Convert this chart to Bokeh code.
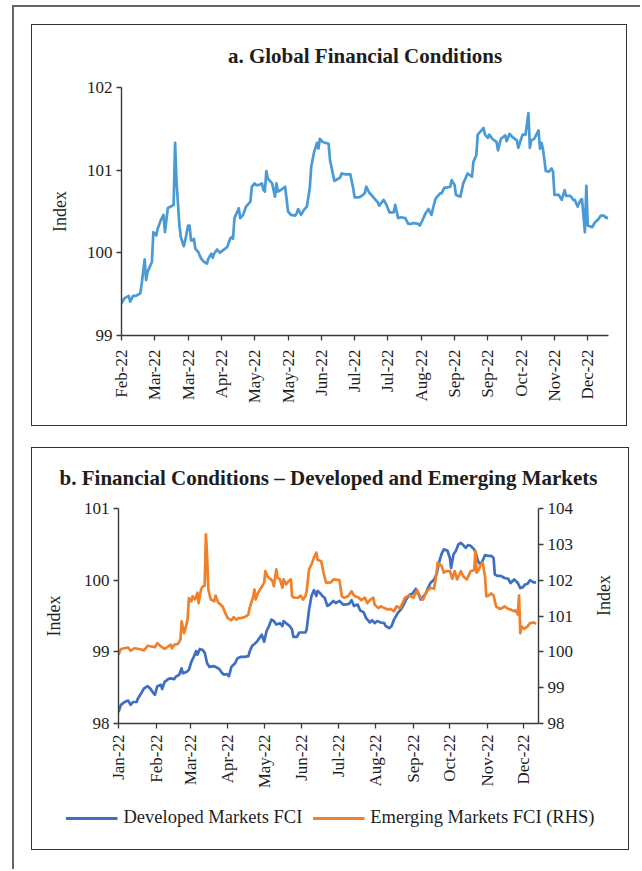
import math
from datetime import datetime, timedelta

from bokeh.plotting import figure
from bokeh.layouts import column
from bokeh.models import (Range1d, LinearAxis, FixedTicker, DatetimeTickFormatter,
                          MonthsTicker, Legend, LegendItem, Title)
from bokeh.embed import file_html
from bokeh.resources import INLINE

# ---------------- data: panel a (Global FCI) ----------------
a_days = [0, 2, 5, 6, 8, 10, 13, 14, 16, 17,
          18, 21, 22, 24, 25, 27, 29, 30, 32, 34,
          36, 37, 38, 40, 41, 43, 44, 46, 47, 48,
          49, 50, 51, 53, 55, 57, 59, 60, 62, 63,
          64, 66, 68, 70, 73, 75, 76, 77, 78, 80,
          81, 82, 84, 86, 89, 90, 92, 93, 95, 97,
          98, 99, 100, 101, 102, 104, 106, 107, 108, 110,
          113, 115, 117, 120, 121, 122, 124, 126, 128, 130,
          131, 133, 135, 136, 137, 139, 143, 144, 147, 149,
          151, 152, 155, 158, 160, 161, 164, 166, 168, 169,
          171, 174, 177, 178, 181, 183, 185, 188, 189, 191,
          193, 196, 198, 200, 202, 205, 206, 208, 210, 212,
          214, 216, 217, 220, 221, 223, 225, 227, 228, 230,
          231, 234, 236, 239, 242, 243, 245, 246, 248, 250,
          251, 253, 254, 256, 259, 260, 262, 265, 266, 268,
          270, 273, 274, 276, 277, 279, 281, 282, 283, 285,
          288, 289, 290, 291, 293, 295, 297, 298, 299, 302,
          304, 306, 307, 310, 312, 313, 315, 317, 318, 320,
          321, 322, 325, 327, 329, 331, 333, 335, 336]
a_global_fci = [99.39, 99.45, 99.48, 99.41, 99.48, 99.48, 99.51, 99.63, 99.92, 99.67,
                99.77, 99.89, 100.25, 100.21, 100.29, 100.39, 100.46, 100.25, 100.54, 100.56,
                100.58, 101.33, 100.86, 100.33, 100.19, 100.08, 100.15, 100.33, 100.33, 100.15,
                100.15, 100.17, 100.05, 100.01, 99.93, 99.89, 99.87, 99.93, 99.99, 99.94,
                99.99, 100.04, 100.00, 100.03, 100.07, 100.17, 100.19, 100.17, 100.42, 100.50,
                100.54, 100.42, 100.46, 100.56, 100.62, 100.80, 100.84, 100.82, 100.82, 100.84,
                100.76, 100.74, 100.99, 100.90, 100.88, 100.84, 100.68, 100.84, 100.74, 100.76,
                100.80, 100.50, 100.46, 100.45, 100.48, 100.53, 100.46, 100.52, 100.56, 100.78,
                101.04, 101.22, 101.33, 101.26, 101.38, 101.34, 101.32, 101.12, 100.87, 100.89,
                100.91, 100.96, 100.95, 100.95, 100.78, 100.67, 100.67, 100.69, 100.72, 100.80,
                100.73, 100.67, 100.61, 100.57, 100.64, 100.58, 100.49, 100.49, 100.58, 100.42,
                100.43, 100.42, 100.35, 100.35, 100.36, 100.35, 100.33, 100.40, 100.48, 100.53,
                100.46, 100.60, 100.66, 100.72, 100.72, 100.79, 100.79, 100.80, 100.88, 100.82,
                100.70, 100.68, 100.84, 100.96, 100.92, 101.10, 101.18, 101.43, 101.47, 101.51,
                101.43, 101.39, 101.43, 101.38, 101.34, 101.24, 101.38, 101.42, 101.35, 101.44,
                101.40, 101.36, 101.27, 101.38, 101.43, 101.43, 101.69, 101.27, 101.36, 101.38,
                101.48, 101.26, 101.33, 101.26, 100.99, 100.98, 101.02, 100.98, 100.70, 100.70,
                100.64, 100.76, 100.69, 100.69, 100.64, 100.64, 100.56, 100.64, 100.65, 100.25,
                100.81, 100.33, 100.31, 100.37, 100.40, 100.45, 100.45, 100.42, 100.43]
a_tick_labels = ["Feb-22", "Mar-22", "Mar-22", "Apr-22", "May-22", "May-22", "Jun-22",
                 "Jul-22", "Jul-22", "Aug-22", "Sep-22", "Sep-22", "Oct-22", "Nov-22", "Dec-22"]
a_tick_step_days = 23

# ---------------- data: panel b (DM and EM FCI) ----------------
b_start = datetime(2022, 1, 1)
dm_days = [0, 2, 5, 8, 10, 12, 15, 16, 19, 21,
           24, 26, 29, 30, 32, 35, 36, 38, 41, 43,
           46, 47, 50, 52, 53, 56, 58, 60, 62, 64,
           65, 67, 69, 71, 73, 75, 78, 80, 83, 85,
           87, 89, 91, 93, 96, 98, 101, 104, 107, 108,
           110, 112, 114, 116, 118, 120, 122, 124, 126, 128,
           130, 133, 135, 136, 138, 141, 143, 144, 147, 149,
           151, 154, 155, 157, 159, 161, 163, 164, 166, 168,
           170, 172, 174, 177, 179, 182, 185, 187, 190, 192,
           194, 197, 199, 202, 204, 207, 209, 211, 213, 216,
           219, 220, 223, 225, 227, 230, 233, 235, 237, 240,
           242, 245, 247, 249, 253, 255, 257, 260, 262, 264,
           266, 268, 271, 273, 274, 276, 278, 280, 282, 284,
           286, 288, 290, 293, 295, 296, 298, 300, 302, 304,
           307, 309, 310, 312, 315, 318, 321, 323, 326, 329,
           331, 333, 335, 337, 339, 342, 344]
dm_fci = [98.16, 98.26, 98.30, 98.32, 98.26, 98.30, 98.30, 98.35, 98.43, 98.49,
          98.52, 98.49, 98.42, 98.40, 98.52, 98.54, 98.48, 98.58, 98.62, 98.63,
          98.62, 98.65, 98.68, 98.77, 98.70, 98.72, 98.75, 98.86, 98.93, 99.01,
          98.96, 99.04, 99.03, 98.99, 98.84, 98.79, 98.80, 98.79, 98.76, 98.71,
          98.68, 98.69, 98.66, 98.79, 98.84, 98.91, 98.93, 98.93, 98.94, 99.00,
          99.08, 99.11, 99.14, 99.19, 99.24, 99.14, 99.29, 99.36, 99.45, 99.43,
          99.38, 99.40, 99.36, 99.43, 99.40, 99.36, 99.31, 99.21, 99.21, 99.27,
          99.27, 99.27, 99.31, 99.59, 99.78, 99.86, 99.78, 99.85, 99.82, 99.78,
          99.75, 99.64, 99.66, 99.71, 99.68, 99.71, 99.66, 99.66, 99.67, 99.72,
          99.64, 99.66, 99.58, 99.55, 99.47, 99.41, 99.44, 99.40, 99.43, 99.41,
          99.40, 99.36, 99.33, 99.36, 99.45, 99.54, 99.60, 99.66, 99.73, 99.80,
          99.81, 99.88, 99.81, 99.73, 99.81, 99.89, 99.96, 100.01, 100.08, 100.24,
          100.36, 100.43, 100.41, 100.31, 100.17, 100.36, 100.41, 100.50, 100.52, 100.49,
          100.45, 100.49, 100.48, 100.43, 100.34, 100.27, 100.22, 100.27, 100.35, 100.34,
          100.34, 100.31, 100.08, 100.06, 100.06, 100.03, 100.02, 99.96, 100.01, 99.96,
          99.89, 99.90, 99.94, 99.95, 100.00, 99.97, 99.97]
em_days = [0, 2, 5, 8, 10, 13, 17, 21, 24, 27,
           30, 32, 35, 38, 41, 43, 44, 46, 49, 51,
           52, 54, 56, 57, 58, 60, 61, 63, 65, 66,
           68, 69, 71, 72, 73, 74, 76, 79, 80, 82,
           84, 86, 88, 90, 93, 95, 97, 99, 101, 104,
           107, 108, 111, 112, 113, 115, 117, 120, 121, 123,
           125, 127, 128, 130, 131, 133, 135, 136, 138, 140,
           142, 143, 145, 148, 150, 152, 154, 155, 157, 159,
           161, 163, 164, 167, 169, 171, 172, 175, 177, 182,
           184, 186, 189, 192, 194, 198, 200, 203, 205, 207,
           210, 211, 214, 216, 219, 222, 224, 227, 229, 232,
           234, 236, 238, 240, 243, 246, 249, 251, 254, 257,
           260, 262, 263, 266, 268, 270, 273, 275, 277, 279,
           282, 284, 287, 290, 293, 294, 295, 297, 298, 300,
           302, 303, 305, 307, 309, 311, 314, 316, 318, 321,
           323, 326, 327, 329, 330, 331, 332, 334, 337, 339,
           342, 344]
em_fci_rhs = [99.92, 100.08, 100.10, 100.12, 100.03, 100.10, 100.08, 100.04, 100.17, 100.15,
              100.13, 100.24, 100.15, 100.08, 100.15, 100.20, 100.10, 100.20, 100.22, 100.34,
              100.85, 100.52, 100.76, 100.94, 101.50, 101.41, 101.55, 101.46, 101.65, 101.36,
              101.74, 101.81, 101.85, 103.28, 102.67, 101.74, 101.46, 101.41, 101.57, 101.38,
              101.32, 101.25, 101.08, 100.94, 100.88, 100.97, 100.90, 100.94, 100.94, 100.97,
              101.04, 101.22, 101.55, 101.74, 101.46, 101.65, 101.76, 101.93, 102.25, 102.09,
              102.04, 101.97, 101.83, 102.30, 102.07, 102.02, 101.79, 102.02, 101.88, 101.97,
              102.02, 101.55, 101.51, 101.51, 101.57, 101.46, 101.55, 101.69, 102.30, 102.44,
              102.63, 102.77, 102.57, 102.53, 102.20, 101.93, 101.93, 101.94, 102.02, 102.00,
              101.55, 101.51, 101.55, 101.69, 101.57, 101.51, 101.44, 101.51, 101.36, 101.44,
              101.51, 101.32, 101.22, 101.27, 101.22, 101.18, 101.20, 101.13, 101.27, 101.22,
              101.36, 101.51, 101.55, 101.57, 101.51, 101.72, 101.51, 101.46, 101.69, 101.79,
              101.76, 102.21, 102.49, 102.41, 102.21, 102.25, 102.25, 102.04, 102.25, 102.02,
              102.25, 102.11, 102.02, 102.25, 102.28, 102.81, 102.21, 102.30, 102.41, 102.49,
              102.09, 101.55, 101.57, 101.63, 101.57, 101.27, 101.20, 101.22, 101.27, 101.20,
              101.18, 101.13, 101.16, 101.04, 101.57, 100.52, 100.71, 100.64, 100.71, 100.80,
              100.82, 100.78]
b_span_days = 346
legend_labels = ["Developed Markets FCI", "Emerging Markets FCI (RHS)"]
title_a = "a. Global Financial Conditions"
title_b = "b. Financial Conditions \u2013 Developed and Emerging Markets"

FONT = "Liberation Serif"
TXT = "#1e1e1e"
AXC = "#3a3a3a"
C_GLOBAL = "#4A9AD6"
C_DM = "#3F6FC1"
C_EM = "#F0802A"
BOX = "1.5px solid #333333"


def style_axis(ax, label_standoff, tick_standoff=4):
    ax.axis_line_color = AXC
    ax.axis_line_width = 1.4
    ax.major_tick_line_color = AXC
    ax.major_tick_line_width = 1.3
    ax.major_tick_out = 5
    ax.major_tick_in = 0
    ax.minor_tick_line_color = None
    ax.major_label_text_font = FONT
    ax.major_label_text_font_size = "17px"
    ax.major_label_text_color = TXT
    ax.major_label_standoff = tick_standoff
    ax.axis_label_text_font = FONT
    ax.axis_label_text_font_size = "18px"
    ax.axis_label_text_font_style = "normal"
    ax.axis_label_text_color = TXT
    ax.axis_label_standoff = label_standoff


def add_title(p, text, standoff, gap):
    # small spacer title next to the frame, then the real title above it
    p.add_layout(Title(text=" ", text_font_size="1px", standoff=gap), "above")
    p.add_layout(Title(text=text, text_font=FONT, text_font_size="21px",
                       text_font_style="bold", text_color=TXT, align="center",
                       standoff=standoff), "above")


# ---------------- panel a ----------------
a_ticks = [i * a_tick_step_days for i in range(len(a_tick_labels))]
p1 = figure(width=596, height=402, output_backend="svg", toolbar_location=None,
            x_range=Range1d(0, 336.3), y_range=Range1d(99, 102),
            min_border_left=89, min_border_right=20, min_border_top=62, min_border_bottom=92)
p1.line(a_days, a_global_fci, line_color=C_GLOBAL, line_width=2.7, line_join="round")
p1.grid.visible = False
p1.outline_line_color = None
p1.xaxis.ticker = FixedTicker(ticks=a_ticks)
p1.xaxis.major_label_overrides = {t: l for t, l in zip(a_ticks, a_tick_labels)}
p1.xaxis.major_label_orientation = math.pi / 2
p1.yaxis.ticker = FixedTicker(ticks=[99, 100, 101, 102])
p1.yaxis.axis_label = "Index"
style_axis(p1.xaxis[0], 5, 9)
style_axis(p1.yaxis[0], 14)
add_title(p1, title_a, 22, 6)
p1.styles = {"border": BOX}
p1.margin = (17, 0, 0, 17)

# ---------------- panel b ----------------
dm_x = [b_start + timedelta(days=d) for d in dm_days]
em_x = [b_start + timedelta(days=d) for d in em_days]
p2 = figure(width=596, height=345, output_backend="svg", toolbar_location=None,
            x_axis_type="datetime",
            x_range=Range1d(b_start, b_start + timedelta(days=b_span_days)),
            y_range=Range1d(98, 101),
            min_border_left=86, min_border_right=90, min_border_top=60, min_border_bottom=70)
p2.extra_y_ranges = {"rhs": Range1d(98, 104)}
p2.line(dm_x, dm_fci, line_color=C_DM, line_width=2.7, line_join="round")
p2.line(em_x, em_fci_rhs, line_color=C_EM, line_width=2.7, line_join="round",
        y_range_name="rhs")
p2.grid.visible = False
p2.outline_line_color = None
p2.xaxis.ticker = MonthsTicker(months=list(range(12)))
p2.xaxis.formatter = DatetimeTickFormatter(days="%b-%y", months="%b-%y", years="%b-%y")
p2.xaxis.major_label_orientation = math.pi / 2
p2.yaxis.ticker = FixedTicker(ticks=[98, 99, 100, 101])
p2.yaxis.axis_label = "Index"
rax = LinearAxis(y_range_name="rhs", axis_label="Index",
                 ticker=FixedTicker(ticks=[98, 99, 100, 101, 102, 103, 104]))
p2.add_layout(rax, "right")
style_axis(p2.xaxis[0], 5, 6)
style_axis(p2.yaxis[0], 17)
style_axis(rax, 28)
rax.axis_label_orientation = math.pi / 2
add_title(p2, title_b, 26, 3)
p2.frame_align = False

# legend strip below panel b (same box)
p3 = figure(width=596, height=56, output_backend="svg", toolbar_location=None,
            x_axis_type=None, y_axis_type=None,
            x_range=Range1d(0, 1), y_range=Range1d(0, 1), min_border=0)
p3.frame_align = False
p3.grid.visible = False
p3.outline_line_color = None
nan = float("nan")
g_dm = p3.line([nan], [nan], line_color=C_DM, line_width=3)
g_em = p3.line([nan], [nan], line_color=C_EM, line_width=3)
legend = Legend(items=[LegendItem(label=legend_labels[0], renderers=[g_dm]),
                       LegendItem(label=legend_labels[1], renderers=[g_em])],
                orientation="horizontal", location="top_center",
                glyph_width=52, glyph_height=18, label_standoff=6, spacing=10,
                padding=0, margin=14, border_line_color=None, background_fill_alpha=0,
                label_text_font=FONT, label_text_font_size="18.5px", label_text_color=TXT)
p3.add_layout(legend)

panel_b = column(p2, p3, styles={"border": BOX})
panel_b.margin = (21, 0, 0, 17)

layout = column(p1, panel_b, styles={"border-left": "2px solid #666666",
                                     "border-top": "2px solid #666666"})
layout.margin = (5, 0, 0, 12)
layout.width = 628
layout.height = 864

open("out.html", "w").write(file_html(layout, INLINE))
